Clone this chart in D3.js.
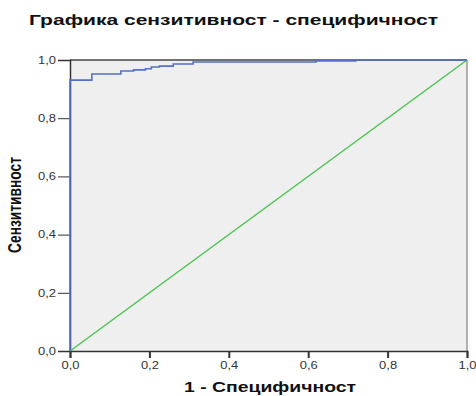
<!DOCTYPE html>
<html>
<head>
<meta charset="utf-8">
<script src="https://cdn.jsdelivr.net/npm/d3@7"></script>
<style>
  body { margin: 0; background: #fff; }
  text { font-family: "Liberation Sans", Arial, sans-serif; }
</style>
</head>
<body>
<svg width="476" height="396"></svg>
<script>
// ROC tocke (1 - specificnost, sensitivnost), citano sa slike
var fpr = [0, 0, 0.055, 0.128, 0.16, 0.19, 0.205, 0.225, 0.26, 0.31, 0.62, 0.72, 1];
var tpr = [0, 0.931, 0.952, 0.962, 0.966, 0.970, 0.976, 0.979, 0.986, 0.993, 0.997, 1, 1];
var diagonal = [0, 1];
var tickValues = [0, 0.2, 0.4, 0.6, 0.8, 1];

var titleText = "Графика сензитивност - специфичност";
var xLabel = "1 - Специфичност";
var yLabel = "Сензитивност";

var svg = d3.select("svg");
var plot = { left: 70, right: 467, top: 60, bottom: 351 };

var x = d3.scaleLinear().domain([0, 1]).range([plot.left, plot.right]);
var y = d3.scaleLinear().domain([0, 1]).range([plot.bottom, plot.top]);

// pozadina grafika
svg.append("rect")
    .attr("x", plot.left)
    .attr("y", plot.top)
    .attr("width", plot.right - plot.left)
    .attr("height", plot.bottom - plot.top)
    .attr("fill", "#efefef");

// gornja i desna ivica
svg.append("line")
    .attr("x1", plot.left).attr("x2", plot.right)
    .attr("y1", plot.top).attr("y2", plot.top)
    .attr("stroke", "#444").attr("stroke-width", 1.5);
svg.append("line")
    .attr("x1", plot.right).attr("x2", plot.right)
    .attr("y1", plot.top).attr("y2", plot.bottom)
    .attr("stroke", "#999").attr("stroke-width", 1.5);

var fmt = function (d) { return d3.format(".1f")(d).replace(".", ","); };

var xAxis = svg.append("g")
    .attr("transform", "translate(0," + plot.bottom + ")")
    .call(d3.axisBottom(x).tickValues(tickValues).tickFormat(fmt).tickSize(7).tickPadding(4));
xAxis.select(".domain").attr("stroke", "#333").attr("stroke-width", 1.5);
xAxis.selectAll(".tick line").attr("stroke", "#333").attr("stroke-width", 2);
xAxis.selectAll(".tick text")
    .attr("font-size", 10).attr("fill", "#333")
    .attr("textLength", 18).attr("lengthAdjust", "spacingAndGlyphs");

var yAxis = svg.append("g")
    .attr("transform", "translate(" + plot.left + ",0)")
    .call(d3.axisLeft(y).tickValues(tickValues).tickFormat(fmt).tickSize(12).tickPadding(2));
yAxis.select(".domain").attr("stroke", "#333").attr("stroke-width", 1.5);
yAxis.selectAll(".tick line").attr("stroke", "#333").attr("stroke-width", 1);
yAxis.selectAll(".tick text")
    .attr("font-size", 10).attr("fill", "#333")
    .attr("textLength", 18).attr("lengthAdjust", "spacingAndGlyphs");

// dijagonala
svg.append("line")
    .attr("x1", x(diagonal[0])).attr("y1", y(diagonal[0]))
    .attr("x2", x(diagonal[1])).attr("y2", y(diagonal[1]))
    .attr("stroke", "#4cc452").attr("stroke-width", 1.5);

// ROC kriva
var rocData = fpr.map(function (d, i) { return { fpr: d, tpr: tpr[i] }; });
var line = d3.line()
    .x(function (d) { return x(d.fpr); })
    .y(function (d) { return y(d.tpr); })
    .curve(d3.curveStepAfter);

svg.append("path")
    .datum(rocData)
    .attr("fill", "none")
    .attr("stroke", "#5470c8")
    .attr("stroke-width", 1.6)
    .attr("d", line);

// naslov i oznake osa
svg.append("text")
    .attr("x", 233.5).attr("y", 25)
    .attr("text-anchor", "middle")
    .attr("font-size", 14).attr("font-weight", "bold").attr("fill", "#111")
    .attr("textLength", 409).attr("lengthAdjust", "spacingAndGlyphs")
    .text(titleText);

svg.append("text")
    .attr("x", 270).attr("y", 392)
    .attr("text-anchor", "middle")
    .attr("font-size", 14).attr("font-weight", "bold").attr("fill", "#111")
    .attr("textLength", 172).attr("lengthAdjust", "spacingAndGlyphs")
    .text(xLabel);

svg.append("text")
    .attr("transform", "translate(21,205) scale(1.37,1) rotate(-90)")
    .attr("text-anchor", "middle")
    .attr("font-size", 13).attr("font-weight", "bold").attr("fill", "#111")
    .attr("textLength", 96).attr("lengthAdjust", "spacingAndGlyphs")
    .text(yLabel);
</script>
</body>
</html>
